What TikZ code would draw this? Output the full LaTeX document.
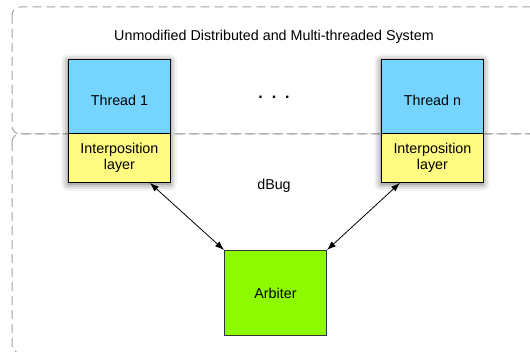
\documentclass[tikz,border=0pt]{standalone}
\usepackage{fontspec}
\setmainfont{Liberation Sans}
\usetikzlibrary{arrows.meta,shadows.blur,calc}
\definecolor{threadblue}{RGB}{118,213,255}
\definecolor{layeryellow}{RGB}{255,250,130}
\definecolor{arbgreen}{RGB}{142,250,0}
\definecolor{dashgray}{RGB}{165,165,165}
\tikzset{
  txt/.style={font=\fontsize{14.3}{16}\selectfont},
  region/.style={draw=dashgray, line width=1pt, dash pattern=on 9pt off 5pt, rounded corners=8pt},
  threadbox/.style={txt, draw=black, line width=0.9pt, fill=threadblue, minimum width=102pt, minimum height=74pt, inner sep=0pt, anchor=north west, text depth=0pt},
  layerbox/.style={txt, draw=black, line width=0.9pt, fill=layeryellow, minimum width=102pt, minimum height=49pt, inner sep=0pt, anchor=north west, align=center},
  arbbox/.style={txt, draw=black!80, line width=1pt, fill=arbgreen, minimum width=102pt, minimum height=85pt, inner sep=0pt, anchor=north west},
  lbl/.style={txt, inner sep=0pt},
  link/.style={line width=0.8pt, {Latex[length=9pt,width=6.5pt]}-{Latex[length=9pt,width=6.5pt]}},
  colshadow/.style={fill=white, blur shadow={shadow xshift=0pt, shadow yshift=-2pt, shadow blur radius=7pt, shadow opacity=60}}
}
\begin{document}
\begin{tikzpicture}[x=1pt,y=-1pt]
\useasboundingbox (0,0) rectangle (530,352);
\begin{scope}
\clip (0,0) rectangle (530,352);
\draw[region] (12,7) rectangle (560,134);
\draw[region] (12,134) rectangle (560,353);
% shadows behind columns
\path[colshadow] (68,59) rectangle (170,182);
\path[colshadow] (381,59) rectangle (483,182);
\end{scope}
\node[lbl] (title) at (274,36.5) {Unmodified Distributed and Multi-threaded System};
\node[threadbox] (t1) at (68,59) {\raisebox{-8pt}{Thread 1}};
\node[layerbox] (i1) at (68,133) {Interposition\\layer};
\node[threadbox] (tn) at (381,59) {\raisebox{-8pt}{Thread n}};
\node[layerbox] (in) at (381,133) {Interposition\\layer};
\node[lbl, font=\fontsize{16}{16}\bfseries] (dots) at (274,97) {.\hspace{9pt}.\hspace{9pt}.};
\node[lbl] (dbug) at (274,185.5) {dBug};
\node[arbbox] (arb) at (224,250) {Arbiter};
\draw[link] ([xshift=-21pt]i1.south east) -- (arb.north west);
\draw[link] ([xshift=19pt]in.south west) -- (arb.north east);
\end{tikzpicture}
\end{document}
